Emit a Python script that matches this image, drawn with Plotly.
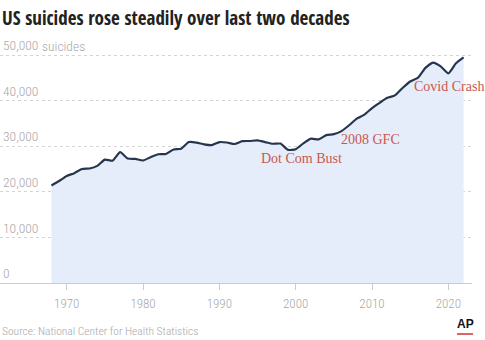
import plotly.graph_objects as go

years = list(range(1968, 2023))
suicides = [21372, 22364, 23480, 24092, 25004, 25118, 25683, 27063, 26832, 28681,
            27294, 27206, 26869, 27596, 28242, 28295, 29286, 29453, 30904, 30796,
            30407, 30232, 30906, 30810, 30484, 31102, 31142, 31284, 30903, 30535,
            30575, 29199, 29350, 30622, 31655, 31484, 32439, 32637, 33300, 34598,
            36035, 36909, 38364, 39518, 40600, 41149, 42773, 44193, 44965, 47173,
            48344, 47511, 45979, 48183, 49476]

x_ticks = [1970, 1980, 1990, 2000, 2010, 2020]
y_ticks = [0, 10000, 20000, 30000, 40000, 50000]
y_ticktext = ["0", "10,000", "20,000", "30,000", "40,000", "50,000"]
y_unit = "suicides"

events = ["Dot Com Bust", "2008 GFC", "Covid Crash"]
event_x = [1995.2, 2005.7, 2015.2]
event_y = [27200, 31500, 43000]

W, H = 485, 340
ML, MR, MT, MB = 0, 13, 30, 57
PH = H - MT - MB
PW = W - ML - MR

def py(p):
    return (H - MB - p) / PH

def px(p):
    return (p - ML) / PW

cond = "Open Sans Condensed, Roboto Condensed, DejaVu Sans Condensed, sans-serif"
light = "Roboto Condensed, Open Sans Condensed, DejaVu Sans Condensed, sans-serif"
gray = "#a8a8a8"

fig = go.Figure()
fig.add_trace(go.Scatter(
    x=years, y=suicides, mode="lines",
    line=dict(color="#26364f", width=2.2, shape="spline", smoothing=0.5),
    fill="tozeroy", fillcolor="#e6edfa", hoverinfo="skip", showlegend=False))

for t, xx, yy in zip(events, event_x, event_y):
    fig.add_annotation(x=xx, y=yy, text=t, showarrow=False, xanchor="left",
                       yanchor="middle",
                       font=dict(family="Liberation Serif, Times New Roman, serif",
                                 size=14, color="#c9574f"))

fig.add_annotation(xref="paper", yref="y", x=px(40), y=y_ticks[-1], yshift=9,
                   text=y_unit, showarrow=False, xanchor="left", yanchor="middle",
                   font=dict(family=light, size=13.5, color=gray, weight=300))

fig.add_annotation(xref="paper", yref="paper", x=px(0), y=py(18),
                   text="<b>US suicides rose steadily over last two decades</b>",
                   showarrow=False, xanchor="left", yanchor="middle",
                   font=dict(family=cond, size=19, color="#222222"))
fig.add_annotation(xref="paper", yref="paper", x=px(0), y=py(331),
                   text="Source: National Center for Health Statistics",
                   showarrow=False, xanchor="left", yanchor="middle",
                   font=dict(family=light, size=11.5, color=gray, weight=300))
fig.add_annotation(xref="paper", yref="paper", x=px(465), y=py(324),
                   text="<b>AP</b>", showarrow=False, xanchor="center",
                   yanchor="middle",
                   font=dict(family="Liberation Sans, Arial, sans-serif",
                             size=12, color="#111111"))
fig.add_shape(type="line", xref="paper", yref="paper",
              x0=px(457), x1=px(473), y0=py(334), y1=py(334),
              line=dict(color="#d0303a", width=1.5))

fig.update_layout(
    width=W, height=H, margin=dict(l=ML, r=MR, t=MT, b=MB),
    paper_bgcolor="white", plot_bgcolor="white",
    xaxis=dict(range=[1961.26, 2023.1], tickvals=x_ticks, ticks="outside",
               ticklen=6, tickcolor="#cccccc", showline=True,
               linecolor="#cccccc", linewidth=1, showgrid=False,
               zeroline=False, ticklabelstandoff=2,
               tickfont=dict(family=light, size=13, color=gray, weight=300)),
    yaxis=dict(range=[0, PH / 0.00456], tickvals=y_ticks, ticktext=y_ticktext,
               ticklabelposition="inside top", showgrid=True,
               gridcolor="#d4d4d4", griddash="dot", zeroline=False,
               showline=False, ticks="",
               tickfont=dict(family=light, size=13.5, color=gray, weight=300)),
)

fig.write_html("out.html")
